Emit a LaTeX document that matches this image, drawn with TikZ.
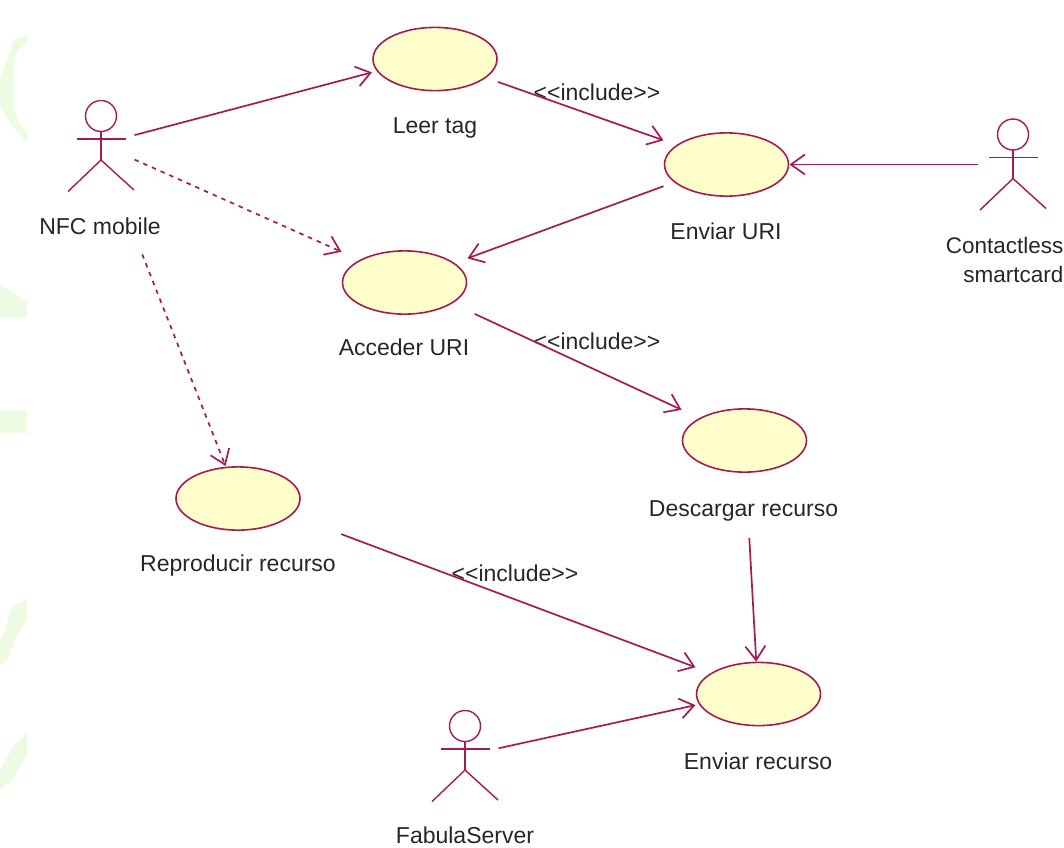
\documentclass[tikz,border=0pt]{standalone}
\usepackage{fontspec}
\setmainfont{Liberation Sans}
\usetikzlibrary{arrows.meta}
\definecolor{umlred}{HTML}{A81A4E}
\definecolor{ucfill}{HTML}{FFFFCB}
\definecolor{bgleaf}{HTML}{EDFBE2}
\definecolor{lbltext}{HTML}{262626}
\tikzset{
  usecase/.style={rectangle, minimum width=126pt, minimum height=65pt, inner sep=0pt, outer sep=0pt,
    path picture={\draw [umlred, fill=ucfill, line width=1.6pt] (path picture bounding box.center) ellipse (62pt and 31.6pt);}},
  actor/.style={rectangle, minimum width=67pt, minimum height=92pt, inner sep=0pt, outer sep=0pt,
    path picture={
      \begin{scope}[shift={(path picture bounding box.center)}, umlred, line width=1.4pt]
      \draw (0, -30) circle (15.5pt);
      \draw (0, -14.5) -- (0, 14);
      \draw (-24.5, -7) -- (24.5, -7);
      \draw (-33, 45.5) -- (0, 14) -- (33, 44);
      \end{scope}
    }},
  lbl/.style={text=lbltext, font=\fontsize{23}{29}\selectfont, inner sep=0pt, align=center},
  assoc/.style={-{Straight Barb[length=14pt, width=20pt]}, umlred, line width=1.7pt},
  depend/.style={assoc, dash pattern=on 4.5pt off 5pt}
}
\begin{document}
\begin{tikzpicture}[x=1pt, y=-1pt]
\useasboundingbox (0, 0) rectangle (1064, 847);
\fill [bgleaf] (27, 35) -- (14, 40) -- (7, 60) -- (0, 80) -- (0, 105) -- (6, 116) -- (14, 128) -- (27, 142) -- (27, 132) -- (19, 122) -- (14, 112) -- (14, 60) -- (18, 50) -- (27, 42) -- cycle;
\fill [bgleaf] (0, 285) -- (14, 293) -- (27, 302) -- (27, 317) -- (0, 317) -- cycle;
\fill [bgleaf] (0, 410) rectangle (27, 433);
\fill [bgleaf] (27, 600) -- (12, 606) -- (5, 630) -- (0, 640) -- (0, 665) -- (8, 660) -- (14, 640) -- (27, 620) -- cycle;
\fill [bgleaf] (27, 733) -- (14, 745) -- (0, 770) -- (0, 790) -- (12, 780) -- (27, 755) -- cycle;

\node [actor] (nfc) at (101, 146) {};
\node [actor] (contactless) at (1013, 164.5) {};
\node [actor] (fabula) at (465, 756) {};
\node [usecase] (leer) at (435, 59) {};
\node [usecase] (enviaruri) at (726.5, 164.5) {};
\node [usecase] (acceder) at (404.5, 282.5) {};
\node [usecase] (descargar) at (744.5, 440.5) {};
\node [usecase] (reproducir) at (238, 498.5) {};
\node [usecase] (enviarrec) at (758.5, 694) {};

\node [lbl] (nfclbl) at (100, 226) {NFC mobile};
\node [lbl, anchor=east, align=right, font=\fontsize{22.5}{29}\selectfont] (contactlesslbl) at (1063.5, 259.5) {Contactless\\smartcard};
\node [lbl] (fabulalbl) at (465, 835) {FabulaServer};
\node [lbl] (leerlbl) at (435, 127.5) {Leer tag};
\node [lbl] (enviarurilbl) at (726, 231) {Enviar URI};
\node [lbl] (accederlbl) at (404, 347) {Acceder URI};
\node [lbl] (descargarlbl) at (743.5, 510.5) {Descargar recurso};
\node [lbl] (reproducirlbl) at (238, 565.5) {Reproducir recurso};
\node [lbl] (enviarreclbl) at (758, 761) {Enviar recurso};
\node [lbl] (incleer) at (597, 92) {<{}<include>{}>};
\node [lbl] (incacceder) at (597, 341) {<{}<include>{}>};
\node [lbl] (increp) at (515, 573) {<{}<include>{}>};

\draw [assoc] (nfc.18) -- (leer.192.5);
\draw [depend] (nfc.-22.7) -- (acceder.154.7);
\draw [depend, shorten <=67pt] (nfc.-70) -- (reproducir.111);
\draw [assoc] (leer.-20.6) -- (enviaruri.159.4);
\draw [assoc, shorten <=2pt] (contactless.west) -- (enviaruri.east);
\draw [assoc] (enviaruri.199.2) -- (acceder.21.1);
\draw [assoc, shorten <=8pt] (acceder.-24.7) -- (descargar.154.7);
\draw [assoc, shorten <=65pt] (descargar.-88) -- (enviarrec.94.3);
\draw [assoc, shorten <=43pt] (reproducir.-18.8) -- (enviarrec.157.4);
\draw [assoc] (fabula.13.2) -- (enviarrec.190);
\end{tikzpicture}
\end{document}
